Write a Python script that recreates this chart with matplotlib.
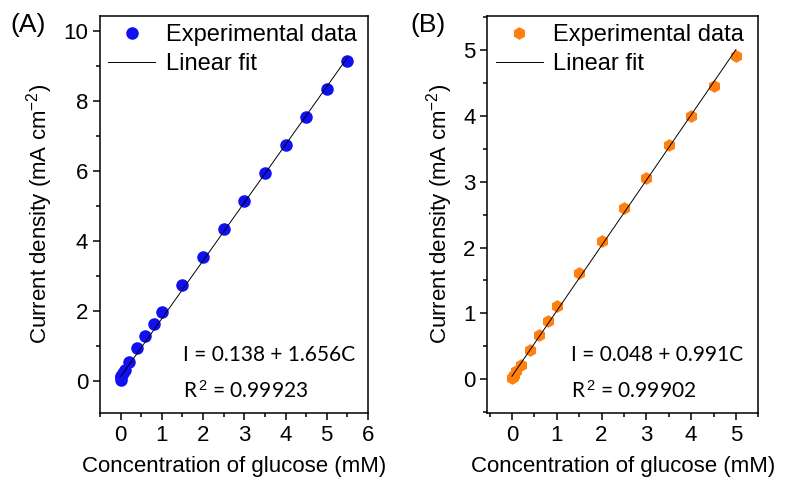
import numpy as np
import matplotlib.pyplot as plt
from matplotlib.ticker import MultipleLocator

plt.rcParams['font.family'] = ['Liberation Sans', 'DejaVu Sans']
plt.rcParams['mathtext.fontset'] = 'custom'
plt.rcParams['mathtext.rm'] = 'Liberation Sans'
plt.rcParams['mathtext.it'] = 'Liberation Sans'

# ---- data ----
conc_a = [0.0, 0.01, 0.02, 0.05, 0.1, 0.2, 0.4, 0.6, 0.8, 1.0,
          1.5, 2.0, 2.5, 3.0, 3.5, 4.0, 4.5, 5.0, 5.5]
curr_a = [0.05, 0.12, 0.17, 0.24, 0.33, 0.57, 0.95, 1.3, 1.63, 1.97,
          2.75, 3.55, 4.35, 5.15, 5.95, 6.75, 7.55, 8.35, 9.15]
fit_a = (0.138, 1.656)
r2_a = '0.99923'

conc_b = [0.0, 0.02, 0.05, 0.1, 0.2, 0.4, 0.6, 0.8, 1.0,
          1.5, 2.0, 2.5, 3.0, 3.5, 4.0, 4.5, 5.0]
curr_b = [0.02, 0.04, 0.07, 0.12, 0.22, 0.44, 0.67, 0.88, 1.11,
          1.62, 2.1, 2.6, 3.05, 3.55, 4.0, 4.45, 4.9]
fit_b = (0.048, 0.991)
r2_b = '0.99902'

fig = plt.figure(figsize=(7.98, 4.8), dpi=100)
ax_a = fig.add_axes([0.1253, 0.1396, 0.3358, 0.8281])
ax_b = fig.add_axes([0.6107, 0.1396, 0.3396, 0.8281])


def draw_panel(ax, x, y, fit, r2, color, marker, msize, xlim, ylim,
               xmaj, ymaj, ymin, eq_x):
    x = np.array(x)
    ax.plot(x, y, linestyle='none', marker=marker, ms=msize, color=color,
            mec=color, label='Experimental data', zorder=3)
    xf = np.array([0, x.max()])
    ax.plot(xf, fit[0] + fit[1] * xf, color='black', lw=0.7,
            label='Linear fit', zorder=4)
    ax.set_xlim(*xlim)
    ax.set_ylim(*ylim)
    ax.xaxis.set_major_locator(MultipleLocator(xmaj))
    ax.xaxis.set_minor_locator(MultipleLocator(xmaj / 2))
    ax.yaxis.set_major_locator(MultipleLocator(ymaj))
    ax.yaxis.set_minor_locator(MultipleLocator(ymin))
    ax.tick_params(which='both', direction='out', width=1.1, labelsize=16,
                   top=False, right=False)
    ax.tick_params(which='major', length=5)
    ax.tick_params(which='minor', length=3)
    for sp in ax.spines.values():
        sp.set_linewidth(1.1)
    ax.set_xlabel('Concentration of glucose (mM)', fontsize=16, labelpad=7)
    ax.set_ylabel('Current density (mA cm$^{-2}$)', fontsize=16, labelpad=6)
    ax.legend(loc='upper left', frameon=False, fontsize=17,
              handlelength=2.0, handletextpad=0.45, borderaxespad=0.1,
              labelspacing=0.32, borderpad=0.25)
    ax.text(eq_x, 0.146, 'I = %.3f + %.3fC' % fit, transform=ax.transAxes,
            fontsize=15, family='Lato', va='center')
    ax.text(eq_x, 0.055, 'R$^{\\,2}$ = ' + r2, transform=ax.transAxes,
            fontsize=15, family='Lato', va='center')


draw_panel(ax_a, conc_a, curr_a, fit_a, r2_a, '#1010f0', 'o', 8,
           (-0.5, 6.0), (-0.9, 10.45), 1, 2, 1, 0.31)
draw_panel(ax_b, conc_b, curr_b, fit_b, r2_b, '#ff8010', 'h', 8,
           (-0.55, 5.5), (-0.51, 5.52), 1, 1, 0.5, 0.31)

fig.text(28 / 798, 1 - 25 / 480, '(A)', fontsize=19, ha='center', va='center')
fig.text(428 / 798, 1 - 25 / 480, '(B)', fontsize=19, ha='center', va='center')

fig.savefig('out.png', dpi=100)
